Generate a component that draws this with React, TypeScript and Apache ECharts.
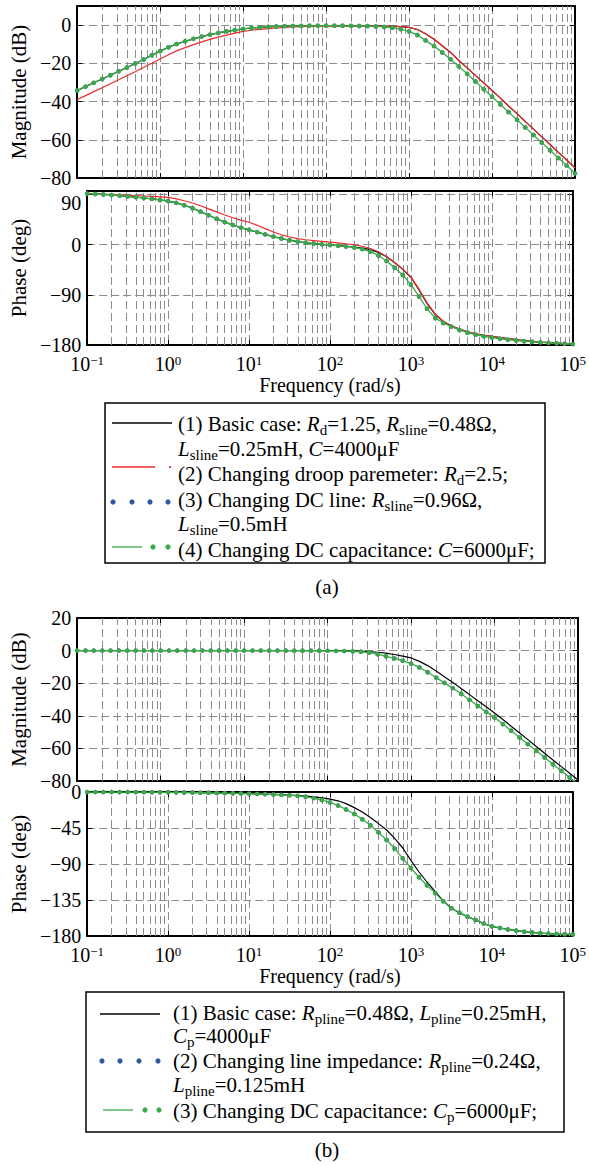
import React, { useEffect, useRef } from "react";
import * as echarts from "echarts";

const FONT = "Liberation Serif";
const GREEN = "#3aa946";
const RED = "#ee2b2b";
const BLUE = "#2f55a4";
const GRID_GRAY = "#8c8c8c";

// Frequency grid (rad/s), ten points per decade
const freqs = [
  0.1, 0.126, 0.158, 0.2, 0.251, 0.316, 0.398, 0.501, 0.631, 0.794,
  1, 1.26, 1.58, 2, 2.51, 3.16, 3.98, 5.01, 6.31, 7.94,
  10, 12.6, 15.8, 20, 25.1, 31.6, 39.8, 50.1, 63.1, 79.4,
  100, 126, 158, 200, 251, 316, 398, 501, 631, 794,
  1000, 1260, 1580, 2000, 2510, 3160, 3980, 5010, 6310, 7940,
  10000, 12600, 15800, 20000, 25100, 31600, 39800, 50100, 63100, 79400,
  100000,
];

// Minor vertical grid lines
const minorGridFreqs = [
  0.2, 0.3, 0.4, 0.5, 0.6, 0.7, 0.8, 0.9,
  2, 3, 4, 5, 6, 7, 8, 9,
  20, 30, 40, 50, 60, 70, 80, 90,
  200, 300, 400, 500, 600, 700, 800, 900,
  2000, 3000, 4000, 5000, 6000, 7000, 8000, 9000,
  20000, 30000, 40000, 50000, 60000, 70000, 80000, 90000,
];

// ---- (a) magnitude, dB ----
const magABasic = [
  -34.2, -32.2, -30.2, -28.2, -26.2, -24.2, -22.2, -20.1, -18.0, -15.8,
  -13.6, -11.6, -9.9, -8.5, -7.2, -6.0, -5.0, -4.1, -3.3, -2.6,
  -2.0, -1.5, -1.2, -0.9, -0.7, -0.55, -0.45, -0.4, -0.35, -0.3,
  -0.3, -0.35, -0.35, -0.35, -0.35, -0.35, -0.4, -0.5, -0.6, -0.8,
  -1.2, -2.3, -4.5, -7.4, -10.8, -14.3, -18.5, -22.4, -26.3, -30.2,
  -34.2, -38.2, -42.3, -46.3, -50.4, -54.4, -58.5, -62.5, -66.6, -70.6,
  -74.7,
];
const magADroop = [
  -38.9, -36.9, -34.8, -32.8, -30.7, -28.6, -26.5, -24.4, -22.2, -20.0,
  -17.7, -15.5, -13.5, -11.8, -10.2, -8.8, -7.5, -6.3, -5.2, -4.2,
  -3.3, -2.7, -2.2, -1.8, -1.5, -1.2, -1.0, -0.85, -0.7, -0.6,
  -0.5, -0.45, -0.4, -0.35, -0.35, -0.35, -0.4, -0.5, -0.6, -0.8,
  -1.2, -2.3, -4.5, -7.4, -10.8, -14.3, -18.5, -22.4, -26.3, -30.2,
  -34.2, -38.2, -42.3, -46.3, -50.4, -54.4, -58.5, -62.5, -66.6, -70.6,
  -74.7,
];
const magACap = [
  -34.2, -32.2, -30.2, -28.2, -26.2, -24.2, -22.2, -20.1, -18.0, -15.8,
  -13.6, -11.6, -9.9, -8.5, -7.2, -6.0, -5.0, -4.1, -3.3, -2.6,
  -2.0, -1.5, -1.2, -0.9, -0.7, -0.55, -0.45, -0.4, -0.35, -0.3,
  -0.3, -0.3, -0.35, -0.4, -0.45, -0.5, -0.7, -0.95, -1.35, -2.1,
  -3.3, -5.2, -8.0, -11.0, -14.3, -17.9, -21.6, -25.5, -29.5, -33.5,
  -37.5, -41.5, -45.5, -49.5, -53.5, -57.5, -61.5, -65.5, -69.5, -73.5,
  -77.6,
];
const magALine = magACap;

// ---- (a) phase, deg ----
const phaseABasic = [
  91.3, 90.6, 89.8, 88.8, 87.6, 86.4, 85.0, 83.5, 81.8, 80.0,
  78.0, 74.8, 70.5, 65.2, 59.0, 52.5, 46.2, 40.3, 35.0, 30.4,
  26.4, 22.3, 18.2, 14.3, 10.8, 7.8, 5.3, 3.3, 1.7, 0.4,
  -0.8, -2.0, -3.4, -4.8, -6.5, -9.0, -14.0, -22.0, -32.5, -44.5,
  -58.5, -81.5, -105.5, -125.5, -138.0, -145.5, -151.5, -156.5, -160.0, -162.5,
  -164.5, -166.7, -168.6, -170.3, -172.0, -173.4, -174.7, -175.8, -176.8, -177.7,
  -178.5,
];
const phaseADroop = [
  91.5, 91.0, 90.4, 89.8, 89.2, 88.5, 87.8, 87.0, 86.2, 85.4,
  84.5, 82.0, 78.5, 74.5, 69.5, 64.0, 58.5, 53.0, 48.0, 43.8,
  40.0, 34.5, 28.5, 22.5, 17.5, 13.5, 10.6, 8.6, 7.2, 5.8,
  4.4, 3.0, 1.5, -0.5, -3.0, -7.0, -13.0, -21.5, -32.0, -44.0,
  -58.0, -80.0, -104.0, -124.5, -137.5, -145.5, -151.5, -156.5, -160.0, -162.5,
  -164.5, -166.7, -168.6, -170.3, -172.0, -173.4, -174.7, -175.8, -176.8, -177.7,
  -178.5,
];
const phaseACap = [
  91.3, 90.6, 89.8, 88.8, 87.6, 86.4, 85.0, 83.5, 81.8, 80.0,
  78.0, 74.8, 70.5, 65.2, 59.0, 52.5, 46.2, 40.3, 35.0, 30.4,
  26.4, 22.3, 18.2, 14.3, 10.8, 7.8, 5.3, 3.3, 1.7, 0.4,
  -0.8, -2.0, -3.4, -5.2, -8.0, -12.5, -19.5, -29.5, -41.5, -54.5,
  -72.0, -93.0, -115.0, -131.5, -140.5, -147.0, -153.0, -158.0, -161.5, -164.3,
  -166.8, -168.8, -170.5, -172.0, -173.2, -174.3, -175.3, -176.2, -177.0, -177.8,
  -178.5,
];
const phaseALine = phaseACap;

// ---- (b) magnitude, dB ----
const magBBasic = [
  0, 0, 0, 0, 0, 0, 0, 0, 0, 0,
  0, 0, 0, 0, 0, 0, 0, 0, 0, 0,
  0, 0, 0, 0, 0, 0, 0, 0, 0, 0,
  0, -0.05, -0.1, -0.2, -0.35, -0.6, -1.0, -1.6, -2.4, -3.4,
  -4.5, -6.6, -9.2, -12.5, -16.0, -19.5, -23.3, -27.0, -30.8, -34.5,
  -38.3, -42.3, -46.4, -50.5, -54.6, -58.8, -63.0, -67.1, -71.2, -75.3,
  -79.4,
];
const magBCap = [
  0, 0, 0, 0, 0, 0, 0, 0, 0, 0,
  0, 0, 0, 0, 0, 0, 0, 0, 0, 0,
  0, 0, 0, 0, 0, -0.02, -0.03, -0.05, -0.07, -0.1,
  -0.15, -0.2, -0.3, -0.45, -0.7, -1.2, -2.2, -3.5, -4.8, -6.2,
  -8.0, -10.3, -13.3, -16.6, -19.8, -23.0, -26.5, -30.2, -34.0, -37.6,
  -41.0, -45.1, -49.2, -53.3, -57.4, -61.5, -65.6, -69.7, -73.8, -77.9,
  -82.0,
];
const magBLine = magBCap;

// ---- (b) phase, deg ----
const phaseBBasic = [
  -0.1, -0.1, -0.1, -0.1, -0.15, -0.15, -0.2, -0.2, -0.25, -0.3,
  -0.35, -0.45, -0.55, -0.7, -0.85, -1.0, -1.2, -1.4, -1.6, -1.9,
  -2.1, -2.3, -2.6, -3.0, -3.4, -3.8, -4.4, -5.2, -6.2, -7.4,
  -8.8, -11.0, -14.5, -19.5, -25.0, -32.0, -39.5, -47.5, -58.0, -70.0,
  -85.5, -100.0, -112.5, -124.5, -136.0, -145.3, -151.0, -155.8, -160.0, -164.5,
  -168.0, -170.0, -171.8, -173.3, -174.6, -175.6, -176.4, -177.0, -177.5, -177.8,
  -178.0,
];
const phaseBCap = [
  -0.1, -0.1, -0.1, -0.1, -0.15, -0.15, -0.2, -0.2, -0.25, -0.3,
  -0.35, -0.45, -0.55, -0.7, -0.85, -1.0, -1.2, -1.4, -1.6, -1.9,
  -2.1, -2.4, -2.7, -3.1, -3.6, -4.0, -4.8, -6.0, -7.6, -10.0,
  -13.0, -17.0, -21.8, -27.5, -34.0, -41.5, -50.5, -60.0, -71.0, -83.0,
  -95.0, -106.5, -116.5, -126.4, -136.5, -145.3, -151.0, -155.8, -160.0, -164.5,
  -168.0, -170.0, -171.8, -173.3, -174.6, -175.6, -176.4, -177.0, -177.5, -177.8,
  -178.0,
];
const phaseBLine = phaseBCap;

// Labelled y ticks for each panel
const magTicksA = [-80, -60, -40, -20, 0];
const phaseTicksA = [-180, -90, 0, 90];
const magTicksB = [-80, -60, -40, -20, 0, 20];
const phaseTicksB = [-180, -135, -90, -45, 0];

const pairs = (vals: number[]) => freqs.map((f, i) => [f, vals[i]]);
const minus = (s: string) => s.replace("-", "\u2212");

const decadeLabel = (v: number) => {
  const e = Math.round(Math.log10(v));
  return `{b|10}{p|${minus(String(e))}}`;
};

function xAxisPair(grid: number, labels: boolean, nameGap: number) {
  const common: any = {
    type: "log",
    logBase: 10,
    min: 0.1,
    max: 100000,
    gridIndex: grid,
    axisLine: { show: true, onZero: false, lineStyle: { color: "#000", width: 2 } },
    axisTick: { show: true, inside: true, length: 5, lineStyle: { color: "#000", width: 1 } },
    splitLine: { show: false },
    axisLabel: { show: false },
  };
  const bottom: any = {
    ...common,
    position: "bottom",
    splitLine: { show: true, lineStyle: { color: GRID_GRAY, width: 1, type: [8, 4] } },
  };
  if (labels) {
    bottom.axisLabel = {
      show: true,
      margin: 8,
      formatter: decadeLabel,
      rich: {
        b: { fontSize: 20, fontFamily: FONT, color: "#000", lineHeight: 22 },
        p: { fontSize: 13, fontFamily: FONT, color: "#000", lineHeight: 22, padding: [0, 0, 8, 0] },
      },
    };
    bottom.name = "Frequency (rad/s)";
    bottom.nameLocation = "middle";
    bottom.nameGap = nameGap;
    bottom.nameTextStyle = { fontFamily: FONT, fontSize: 20, color: "#000" };
  }
  return [bottom, { ...common, position: "top" }];
}

function yAxisPair(
  grid: number,
  min: number,
  max: number,
  interval: number,
  ticks: number[],
  name: string,
  nameGap: number,
  lowered?: number
) {
  const common: any = {
    type: "value",
    min,
    max,
    interval,
    gridIndex: grid,
    axisLine: { show: true, onZero: false, lineStyle: { color: "#000", width: 2 } },
    axisTick: { show: true, inside: true, length: 5, lineStyle: { color: "#000", width: 1 } },
    splitLine: { show: false },
    axisLabel: { show: false },
  };
  const left: any = {
    ...common,
    position: "left",
    splitLine: { show: true, lineStyle: { color: GRID_GRAY, width: 1, type: [8, 4] } },
    axisLabel: {
      show: true,
      margin: 6,
      fontFamily: FONT,
      fontSize: 20,
      color: "#000",
      formatter: (v: number) => {
        if (!ticks.includes(v)) return "";
        if (lowered !== undefined && v === lowered) return `{lo|${minus(String(v))}}`;
        return minus(String(v));
      },
      rich: {
        lo: { fontSize: 20, fontFamily: FONT, color: "#000", padding: [17, 0, 0, 0] },
      },
    },
    name,
    nameLocation: "middle",
    nameGap,
    nameTextStyle: { fontFamily: FONT, fontSize: 21, color: "#000" },
  };
  return [left, { ...common, position: "right" }];
}

function panelSeries(
  axis: number,
  basic: number[],
  other: number[] | null,
  otherColor: string,
  line: number[],
  cap: number[]
) {
  const out: any[] = [
    {
      type: "line",
      xAxisIndex: axis,
      yAxisIndex: axis,
      data: pairs(basic),
      symbol: "none",
      lineStyle: { color: "#000", width: 1.2 },
      itemStyle: { color: "#000" },
      z: 3,
      silent: true,
      markLine: {
        silent: true,
        z: 1,
        symbol: ["none", "none"],
        label: { show: false },
        emphasis: { disabled: true },
        lineStyle: { color: GRID_GRAY, width: 1, type: [8, 4] },
        data: minorGridFreqs.map((v) => ({ xAxis: v })),
      },
    },
  ];
  if (other) {
    out.push({
      type: "line",
      xAxisIndex: axis,
      yAxisIndex: axis,
      data: pairs(other),
      symbol: "none",
      lineStyle: { color: otherColor, width: 1.2 },
      itemStyle: { color: otherColor },
      z: 4,
      silent: true,
    });
  }
  out.push({
    type: "line",
    xAxisIndex: axis,
    yAxisIndex: axis,
    data: pairs(line),
    symbol: "circle",
    symbolSize: 4.5,
    showSymbol: true,
    lineStyle: { opacity: 0 },
    itemStyle: { color: BLUE },
    z: 5,
    silent: true,
  });
  out.push({
    type: "line",
    xAxisIndex: axis,
    yAxisIndex: axis,
    data: pairs(cap),
    symbol: "circle",
    symbolSize: 4.5,
    showSymbol: true,
    lineStyle: { color: GREEN, width: 1.3 },
    itemStyle: { color: GREEN },
    z: 6,
    silent: true,
  });
  return out;
}

const legendRich = {
  n: { fontSize: 21, fontFamily: FONT, fill: "#000", lineHeight: 22 },
  i: { fontSize: 21, fontFamily: FONT, fontStyle: "italic", fill: "#000", lineHeight: 22 },
  s: { fontSize: 15, fontFamily: FONT, fill: "#000", padding: [11, 0, 0, 0] },
};

const textLine = (x: number, y: number, text: string) => ({
  type: "text",
  x,
  y,
  silent: true,
  style: {
    text,
    rich: legendRich,
    fontSize: 21,
    fontFamily: FONT,
    fill: "#000",
    align: "left",
    verticalAlign: "middle",
  },
});

const hLine = (x1: number, x2: number, y: number, color: string) => ({
  type: "line",
  silent: true,
  shape: { x1, y1: y, x2, y2: y },
  style: { stroke: color, lineWidth: 1.3 },
});

const dot = (cx: number, cy: number, color: string, r = 2.6) => ({
  type: "circle",
  silent: true,
  shape: { cx, cy, r },
  style: { fill: color },
});

function buildOption(): any {
  const graphic: any[] = [
    // legend (a)
    {
      type: "rect",
      silent: true,
      shape: { x: 105, y: 403, width: 440, height: 160 },
      style: { fill: "none", stroke: "#000", lineWidth: 1.5 },
    },
    hLine(112, 172, 423, "#000"),
    textLine(178, 424, "{n|(1) Basic case: }{i|R}{s|d}{n|=1.25, }{i|R}{s|sline}{n|=0.48\u03a9,}"),
    textLine(178, 449, "{i|L}{s|sline}{n|=0.25mH, }{i|C}{n|=4000\u03bcF}"),
    hLine(112, 155, 467, RED),
    dot(170, 467, RED, 1.1),
    textLine(178, 474, "{n|(2) Changing droop paremeter: }{i|R}{s|d}{n|=2.5;}"),
    dot(113, 502, BLUE),
    dot(132, 502, BLUE),
    dot(150, 502, BLUE),
    dot(168, 502, BLUE),
    textLine(178, 500, "{n|(3) Changing DC line: }{i|R}{s|sline}{n|=0.96\u03a9,}"),
    textLine(178, 524, "{i|L}{s|sline}{n|=0.5mH}"),
    hLine(112, 142, 547, GREEN),
    dot(153, 547, GREEN),
    dot(168, 547, GREEN),
    textLine(178, 550, "{n|(4) Changing DC capacitance: }{i|C}{n|=6000\u03bcF;}"),
    {
      type: "text",
      silent: true,
      x: 327,
      y: 587,
      style: { text: "(a)", fontSize: 21, fontFamily: FONT, fill: "#000", align: "center", verticalAlign: "middle" },
    },
    // legend (b)
    {
      type: "rect",
      silent: true,
      shape: { x: 86, y: 992, width: 478, height: 140 },
      style: { fill: "none", stroke: "#000", lineWidth: 1.5 },
    },
    hLine(100, 160, 1014, "#000"),
    textLine(173, 1013, "{n|(1) Basic case: }{i|R}{s|pline}{n|=0.48\u03a9, }{i|L}{s|pline}{n|=0.25mH,}"),
    textLine(173, 1036, "{i|C}{s|p}{n|=4000\u03bcF}"),
    dot(102, 1061, BLUE),
    dot(120, 1061, BLUE),
    dot(139, 1061, BLUE),
    dot(158, 1061, BLUE),
    textLine(173, 1061, "{n|(2) Changing line impedance: }{i|R}{s|pline}{n|=0.24\u03a9,}"),
    textLine(173, 1085, "{i|L}{s|pline}{n|=0.125mH}"),
    hLine(103, 133, 1110, GREEN),
    dot(145, 1110, GREEN),
    dot(159, 1110, GREEN),
    textLine(173, 1111, "{n|(3) Changing DC capacitance: }{i|C}{s|p}{n|=6000\u03bcF;}"),
    {
      type: "text",
      silent: true,
      x: 327,
      y: 1150,
      style: { text: "(b)", fontSize: 21, fontFamily: FONT, fill: "#000", align: "center", verticalAlign: "middle" },
    },
  ];

  return {
    animation: false,
    backgroundColor: "#fff",
    grid: [
      { left: 76, top: 6, width: 499, height: 172 },
      { left: 76, top: 191, width: 499, height: 154 },
      { left: 76, top: 618, width: 502, height: 163 },
      { left: 76, top: 792, width: 502, height: 144 },
    ],
    xAxis: [
      ...xAxisPair(0, false, 0),
      ...xAxisPair(1, true, 30),
      ...xAxisPair(2, false, 0),
      ...xAxisPair(3, true, 29),
    ],
    yAxis: [
      ...yAxisPair(0, -80, 10, 20, magTicksA, "Magnitude (dB)", 46),
      ...yAxisPair(1, -180, 96, 90, phaseTicksA, "Phase (deg)", 44, 90),
      ...yAxisPair(2, -80, 20, 20, magTicksB, "Magnitude (dB)", 46),
      ...yAxisPair(3, -180, 0, 45, phaseTicksB, "Phase (deg)", 53),
    ],
    series: [
      ...panelSeries(0, magABasic, magADroop, RED, magALine, magACap),
      ...panelSeries(2, phaseABasic, phaseADroop, RED, phaseALine, phaseACap),
      ...panelSeries(4, magBBasic, null, RED, magBLine, magBCap),
      ...panelSeries(6, phaseBBasic, null, RED, phaseBLine, phaseBCap),
    ],
    graphic,
  };
}

export default function App() {
  const ref = useRef<HTMLDivElement>(null);
  useEffect(() => {
    if (!ref.current) return;
    const chart = echarts.init(ref.current, undefined, { renderer: "svg" });
    chart.setOption(buildOption());
    return () => chart.dispose();
  }, []);
  return (
    <div
      ref={ref}
      style={{ position: "absolute", left: 0, top: 0, width: 589, height: 1165, background: "#fff" }}
    />
  );
}
